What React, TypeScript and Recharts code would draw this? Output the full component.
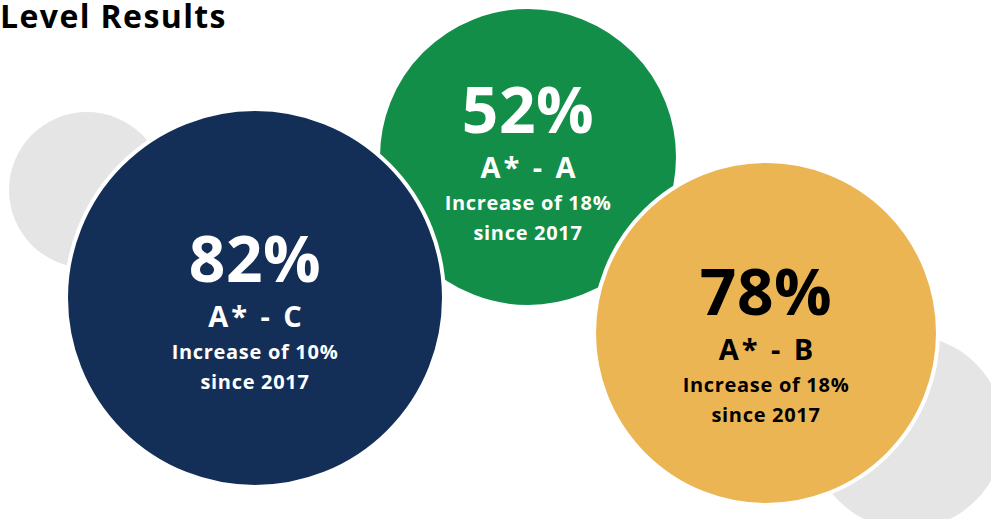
import React from "react";
import { ScatterChart, Scatter, XAxis, YAxis } from "recharts";

// grade bands, drawn in this order (green sits behind navy and yellow)
const GRADES = ["A* - A", "A* - C", "A* - B"];
const RESULTS = [52, 82, 78];
const INCREASES = [18, 10, 18];
const SINCE = 2017;

// bubble layout in page units
const BUBBLE_X = [528, 255, 766];
const BUBBLE_Y = [157, 298, 333];
const BUBBLE_R = [148, 187, 170];
const BUBBLE_FILL = ["#128e49", "#142f57", "#ebb554"];
const TEXT_FILL = ["#ffffff", "#ffffff", "#000000"];
const TEXT_SHIFT = [-24, -16, -18];

// grey decoration behind
const DECOR_X = [87, 907];
const DECOR_Y = [190, 432];
const DECOR_R = [78, 97];

const W = 991;
const H = 519;
const FONT = "'Open Sans', sans-serif";

const bubbles = GRADES.map((g, i) => ({
  x: BUBBLE_X[i],
  y: BUBBLE_Y[i],
  r: BUBBLE_R[i],
  grade: g,
  value: RESULTS[i],
  inc: INCREASES[i],
  fill: BUBBLE_FILL[i],
  text: TEXT_FILL[i],
  shift: TEXT_SHIFT[i],
}));

const decor = DECOR_X.map((x, i) => ({ x, y: DECOR_Y[i], r: DECOR_R[i] }));

function DecorShape(props: any) {
  const { cx, cy, payload } = props;
  return <circle cx={cx} cy={cy} r={payload.r} fill="#e5e5e5" />;
}

function BubbleShape(props: any) {
  const { cx, cy, payload } = props;
  const base = cy + payload.shift;
  const common = { textAnchor: "middle" as const, fill: payload.text, fontFamily: FONT, fontWeight: 700 };
  return (
    <g>
      <circle cx={cx} cy={cy} r={payload.r + 2} fill={payload.fill} stroke="#ffffff" strokeWidth={4} />
      <text x={cx} y={base} {...common} fontSize={64} letterSpacing={0.5}>
        {payload.value}%
      </text>
      <text x={cx + 1.5} y={base + 45} {...common} fontSize={29} letterSpacing={3}>
        {payload.grade}
      </text>
      <text x={cx} y={base + 77} {...common} fontSize={20} letterSpacing={0.7}>
        Increase of {payload.inc}%
      </text>
      <text x={cx} y={base + 107} {...common} fontSize={20} letterSpacing={0.7}>
        since {SINCE}
      </text>
    </g>
  );
}

export default function App() {
  return (
    <div style={{ position: "absolute", left: 0, top: 0, width: W, height: H, background: "#fff", overflow: "hidden" }}>
      <ScatterChart width={W} height={H} margin={{ top: 0, right: 0, bottom: 0, left: 0 }}>
        <XAxis type="number" dataKey="x" domain={[0, W]} hide />
        <YAxis type="number" dataKey="y" domain={[0, H]} reversed hide />
        <Scatter data={decor} shape={DecorShape} isAnimationActive={false} />
        <Scatter data={bubbles} shape={BubbleShape} isAnimationActive={false} />
      </ScatterChart>
      <div
        style={{
          position: "absolute",
          left: 0,
          top: 0,
          fontFamily: FONT,
          fontWeight: 700,
          fontSize: 32,
          lineHeight: "32px",
          letterSpacing: 1.4,
          color: "#000",
        }}
      >
        Level Results
      </div>
    </div>
  );
}
